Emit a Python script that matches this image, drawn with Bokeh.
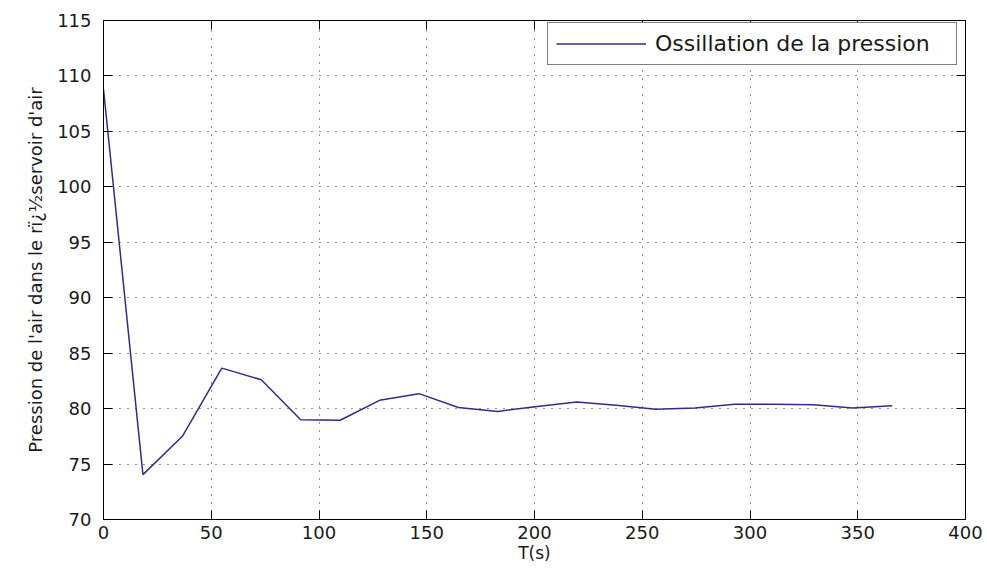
from bokeh.plotting import figure
from bokeh.models import LinearAxis, Range1d, FixedTicker, Legend, LegendItem, CustomLabelingPolicy
from bokeh.embed import file_html
from bokeh.resources import INLINE

# Data
t_s = [0, 18.3, 36.6, 54.9, 73.2, 91.5, 109.8, 128.1, 146.4, 164.7, 183.0,
       201.3, 219.6, 237.9, 256.2, 274.5, 292.8, 311.1, 329.4, 347.7, 366.0]
pression = [108.8, 74.05, 77.5, 83.65, 82.6, 79.0, 78.95, 80.75, 81.35, 80.1, 79.75,
            80.2, 80.6, 80.3, 79.95, 80.05, 80.4, 80.4, 80.35, 80.05, 80.25]
x_ticks = [0, 50, 100, 150, 200, 250, 300, 350, 400]
y_ticks = [70, 75, 80, 85, 90, 95, 100, 105, 110, 115]
legend_label = "Ossillation de la pression"
x_label = "T(s)"
y_label = "Pression de l'air dans le rï¿½servoir d'air"

FONT = "DejaVu Sans"

p = figure(width=983, height=565, output_backend="svg", toolbar_location=None,
           x_range=Range1d(0, 400), y_range=Range1d(70, 115),
           x_axis_label=x_label, y_axis_label=y_label,
           min_border_left=103, min_border_right=18, min_border_top=20, min_border_bottom=46)

p.background_fill_color = "white"
p.border_fill_color = "white"
p.outline_line_color = "black"
p.outline_line_width = 1

r = p.line(t_s, pression, line_color="#2e2e8a", line_width=1.5)

for ax, ticks in ((p.xaxis[0], x_ticks), (p.yaxis[0], y_ticks)):
    ax.ticker = FixedTicker(ticks=ticks)
    ax.major_tick_in = 9
    ax.major_tick_out = 0
    ax.minor_tick_in = 0
    ax.minor_tick_out = 0
    ax.axis_line_color = "black"
    ax.major_tick_line_color = "black"
    ax.major_label_text_font = FONT
    ax.major_label_text_font_size = "18px"
    ax.major_label_text_color = "#1a1a1a"
    ax.axis_label_text_font = FONT
    ax.axis_label_text_font_style = "normal"
    ax.axis_label_text_color = "#1a1a1a"

p.xaxis[0].major_label_standoff = 6
p.xaxis[0].axis_label_standoff = 1
p.xaxis[0].axis_label_text_font_size = "17px"
p.yaxis[0].major_label_standoff = 12
p.yaxis[0].axis_label_standoff = 8
p.yaxis[0].axis_label_text_font_size = "18px"

# top and right axes (ticks only, labels hidden by policy)
hide_all = CustomLabelingPolicy(code="""
    for (const i of indices) { indices.unset(i) }
    return indices
""")
for side, ticks in (("above", x_ticks), ("right", y_ticks)):
    ax = LinearAxis(ticker=FixedTicker(ticks=ticks), major_label_policy=hide_all)
    ax.major_tick_in = 9
    ax.major_tick_out = 0
    ax.minor_tick_in = 0
    ax.minor_tick_out = 0
    ax.major_label_text_font_size = "8px"
    ax.major_label_standoff = 0
    ax.axis_line_color = "black"
    ax.major_tick_line_color = "black"
    p.add_layout(ax, side)

p.xgrid.ticker = FixedTicker(ticks=x_ticks)
p.ygrid.ticker = FixedTicker(ticks=y_ticks)
for g in (p.xgrid[0], p.ygrid[0]):
    g.grid_line_color = "black"
    g.grid_line_dash = "1 7"
    g.grid_line_width = 1
    g.grid_line_alpha = 0.85

legend = Legend(items=[LegendItem(label=legend_label, renderers=[r])],
                location=(444, 454))
legend.padding = 8
legend.margin = 0
legend.glyph_width = 90
legend.glyph_height = 19
legend.label_height = 19
legend.label_standoff = 9
legend.label_width = 293
legend.label_text_font = FONT
legend.label_text_font_size = "22px"
legend.label_text_color = "#1a1a1a"
legend.border_line_color = "black"
legend.border_line_width = 1
legend.background_fill_color = "white"
legend.background_fill_alpha = 1
p.add_layout(legend, "center")

open("out.html", "w").write(file_html(p, INLINE))
